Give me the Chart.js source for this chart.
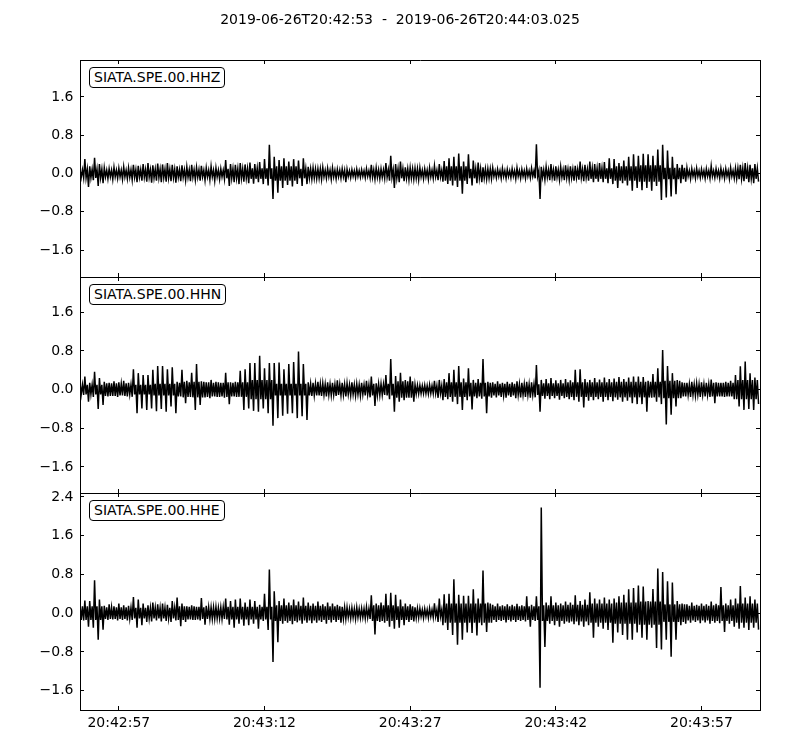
<!DOCTYPE html>
<html>
<head>
<meta charset="utf-8">
<script src="https://cdn.jsdelivr.net/npm/chart.js@4.4.1/dist/chart.umd.min.js"></script>
<style>
html,body{margin:0;padding:0;background:#fff;width:800px;height:750px;overflow:hidden;}
canvas{position:absolute;left:0;top:0;}
.lbl{position:absolute;left:89px;z-index:5;font-family:"DejaVu Sans",sans-serif;font-size:14px;line-height:17px;padding:1px 4px;border:1px solid #000;border-radius:4px;background:#fff;color:#000;white-space:nowrap;}
</style>
</head>
<body>
<canvas id="c1" width="800" height="750"></canvas>
<canvas id="c2" width="800" height="750"></canvas>
<canvas id="c3" width="800" height="750"></canvas>
<div class="lbl" id="l1" style="top:67px"></div>
<div class="lbl" id="l2" style="top:284px"></div>
<div class="lbl" id="l3" style="top:500px"></div>
<script>
// ---- data ----
const startTime = '2019-06-26T20:42:53';
const endTime = '2019-06-26T20:44:03.025';
const duration = 70.025;          // seconds shown on the time axis
const binSeconds = 0.5;           // envelope bins: max / min per bin
const bandSeconds = 2.5;          // resolution of the dense noise-core half width
const stations = ['SIATA.SPE.00.HHZ', 'SIATA.SPE.00.HHN', 'SIATA.SPE.00.HHE'];

const xTickValues = [4, 19, 34, 49, 64];
const xTickLabels = ['20:42:57', '20:43:12', '20:43:27', '20:43:42', '20:43:57'];
const yTicksHHZ = [-1.6, -0.8, 0, 0.8, 1.6];
const yTicksHHN = [-1.6, -0.8, 0, 0.8, 1.6];
const yTicksHHE = [-1.6, -0.8, 0, 0.8, 1.6, 2.4];
const yRangeHHZ = [-2.16, 2.37];
const yRangeHHN = [-2.14, 2.33];
const yRangeHHE = [-2.0, 2.48];

const hhzHi = [
 .08,.30,.15,.33,.20,.12,.10,.13,.11,.14,
 .12,.18,.16,.20,.22,.17,.21,.19,.22,.18,
 .15,.17,.14,.18,.13,.16,.12,.15,.12,.10,
 .28,.20,.18,.22,.19,.23,.20,.24,.30,.60,
 .35,.28,.32,.25,.30,.27,.32,.14,.12,.10,
 .13,.11,.12,.09,.10,.09,.08,.09,.08,.10,
 .18,.12,.10,.22,.37,.20,.25,.13,.12,.11,
 .12,.10,.12,.16,.20,.26,.32,.35,.42,.25,
 .40,.27,.23,.13,.10,.12,.09,.11,.09,.10,
 .12,.09,.10,.11,.61,.14,.14,.20,.15,.14,
 .17,.15,.16,.25,.18,.25,.20,.22,.24,.32,
 .30,.22,.27,.35,.40,.37,.41,.40,.37,.50,
 .60,.48,.35,.20,.18,.12,.10,.11,.09,.10,
 .16,.10,.11,.10,.12,.11,.18,.22,.18,.20];
const hhzLo = [
 -.09,-.28,-.14,-.26,-.20,-.11,-.12,-.10,-.12,-.11,
 -.13,-.18,-.15,-.17,-.19,-.15,-.18,-.17,-.16,-.19,
 -.16,-.14,-.16,-.13,-.15,-.14,-.13,-.15,-.12,-.11,
 -.26,-.18,-.22,-.17,-.20,-.21,-.18,-.22,-.25,-.53,
 -.40,-.30,-.24,-.27,-.22,-.26,-.22,-.12,-.11,-.12,
 -.10,-.12,-.11,-.10,-.18,-.09,-.09,-.08,-.09,-.09,
 -.12,-.11,-.10,-.15,-.30,-.18,-.16,-.13,-.12,-.13,
 -.11,-.12,-.10,-.14,-.17,-.22,-.25,-.28,-.42,-.22,
 -.25,-.20,-.18,-.12,-.11,-.09,-.10,-.10,-.09,-.11,
 -.10,-.10,-.09,-.10,-.53,-.13,-.14,-.15,-.13,-.14,
 -.13,-.15,-.13,-.16,-.15,-.18,-.17,-.18,-.20,-.22,
 -.30,-.20,-.25,-.36,-.30,-.35,-.30,-.36,-.26,-.55,
 -.50,-.48,-.43,-.20,-.17,-.11,-.10,-.09,-.10,-.10,
 -.09,-.10,-.10,-.11,-.10,-.12,-.16,-.18,-.20,-.17];
const hhzBand = [
 .09,.07,.08,.09,.08,.07,.10,.11,.15,.10,
 .07,.06,.08,.10,.07,.15,.10,.06,.06,.08,
 .09,.11,.15,.17,.12,.06,.06,.11];

const hhnHi = [
 .13,.27,.14,.37,.24,.16,.14,.17,.15,.18,
 .14,.42,.34,.30,.30,.41,.49,.49,.42,.46,
 .16,.41,.18,.35,.53,.17,.15,.20,.16,.14,
 .35,.15,.16,.39,.42,.55,.55,.70,.44,.55,
 .55,.56,.42,.53,.57,.79,.53,.15,.14,.16,
 .13,.15,.14,.19,.14,.13,.15,.12,.14,.18,
 .27,.13,.12,.30,.63,.28,.35,.20,.27,.10,
 .09,.09,.10,.18,.20,.22,.34,.41,.49,.23,
 .44,.20,.22,.63,.16,.15,.17,.14,.16,.15,
 .17,.14,.16,.15,.51,.20,.22,.24,.19,.20,
 .22,.19,.41,.42,.22,.20,.24,.21,.25,.22,
 .23,.26,.22,.25,.27,.27,.26,.18,.32,.44,
 .82,.49,.34,.20,.15,.14,.16,.13,.15,.14,
 .21,.15,.14,.16,.18,.30,.48,.58,.34,.25];
const hhnLo = [
 -.11,-.25,-.15,-.40,-.32,-.14,-.13,-.15,-.12,-.14,
 -.15,-.49,-.39,-.42,-.39,-.45,-.40,-.46,-.35,-.49,
 -.14,-.28,-.15,-.42,-.32,-.16,-.18,-.14,-.15,-.17,
 -.30,-.14,-.15,-.42,-.39,-.44,-.46,-.39,-.49,-.75,
 -.59,-.54,-.50,-.49,-.59,-.55,-.63,-.13,-.12,-.13,
 -.14,-.12,-.13,-.12,-.14,-.12,-.13,-.13,-.12,-.16,
 -.34,-.12,-.11,-.20,-.46,-.25,-.22,-.17,-.25,-.09,
 -.08,-.09,-.08,-.17,-.22,-.20,-.25,-.30,-.42,-.22,
 -.41,-.18,-.19,-.49,-.17,-.16,-.15,-.17,-.15,-.18,
 -.16,-.15,-.17,-.16,-.46,-.19,-.20,-.18,-.21,-.18,
 -.20,-.22,-.25,-.37,-.23,-.22,-.20,-.25,-.22,-.24,
 -.21,-.25,-.23,-.28,-.30,-.30,-.46,-.17,-.25,-.30,
 -.72,-.52,-.35,-.18,-.14,-.15,-.13,-.15,-.14,-.15,
 -.28,-.14,-.15,-.14,-.20,-.35,-.42,-.40,-.42,-.30];
const hhnBand = [
 .10,.13,.10,.12,.16,.18,.15,.20,.12,.12,
 .11,.10,.12,.17,.08,.15,.14,.12,.11,.13,
 .15,.15,.16,.16,.18,.11,.14,.20];

const hheHi = [
 .17,.26,.25,.68,.28,.15,.18,.14,.20,.16,
 .15,.33,.28,.20,.16,.22,.18,.20,.17,.25,
 .32,.20,.14,.16,.13,.31,.15,.12,.13,.12,
 .30,.25,.28,.30,.22,.28,.25,.17,.40,.90,
 .45,.25,.30,.22,.28,.24,.32,.22,.20,.24,
 .18,.22,.20,.17,.13,.12,.11,.12,.10,.13,
 .37,.20,.22,.40,.42,.38,.28,.20,.18,.12,
 .10,.09,.10,.20,.30,.39,.40,.70,.38,.36,
 .36,.49,.30,.88,.22,.17,.20,.16,.18,.17,
 .19,.16,.35,.17,.35,2.18,.22,.35,.22,.20,
 .24,.22,.37,.25,.28,.43,.30,.28,.32,.28,
 .30,.35,.38,.49,.52,.57,.55,.25,.50,.92,
 .85,.66,.63,.25,.20,.18,.22,.17,.20,.18,
 .24,.19,.54,.20,.28,.30,.56,.32,.35,.28];
const hheLo = [
 -.15,-.28,-.30,-.55,-.34,-.14,-.13,-.15,-.14,-.15,
 -.14,-.30,-.25,-.18,-.17,-.15,-.17,-.16,-.18,-.15,
 -.27,-.18,-.13,-.14,-.15,-.24,-.12,-.12,-.11,-.12,
 -.24,-.30,-.22,-.26,-.25,-.22,-.32,-.16,-.35,-1.01,
 -.60,-.22,-.20,-.23,-.19,-.22,-.20,-.21,-.20,-.18,
 -.22,-.19,-.18,-.20,-.12,-.11,-.12,-.10,-.11,-.12,
 -.44,-.18,-.20,-.28,-.32,-.30,-.25,-.18,-.17,-.10,
 -.10,-.10,-.09,-.18,-.25,-.35,-.45,-.65,-.55,-.40,
 -.41,-.46,-.25,-.39,-.20,-.18,-.16,-.19,-.17,-.18,
 -.16,-.17,-.28,-.16,-1.54,-.70,-.22,-.25,-.28,-.22,
 -.20,-.23,-.25,-.28,-.25,-.51,-.28,-.32,-.35,-.61,
 -.40,-.45,-.55,-.55,-.40,-.51,-.55,-.30,-.72,-.75,
 -.55,-.90,-.55,-.25,-.22,-.20,-.18,-.21,-.19,-.22,
 -.20,-.21,-.39,-.22,-.28,-.32,-.30,-.35,-.30,-.34];
const hheBand = [
 .14,.12,.11,.11,.14,.12,.13,.13,.16,.15,
 .14,.09,.16,.14,.07,.20,.20,.14,.14,.16,
 .17,.20,.22,.24,.18,.15,.16,.20];

// ---- rendering ----
Chart.defaults.font.family = '"DejaVu Sans", sans-serif';
Chart.defaults.font.size = 14;
Chart.defaults.color = '#000';

// each bin: peak, dense noise core down/up, trough
function trace(hi, lo, band) {
  const pts = [];
  const q = binSeconds / 4;
  for (let i = 0; i < hi.length; i++) {
    const t = i * binSeconds;
    const b = Math.min(band[Math.floor(t / bandSeconds)], hi[i], -lo[i]);
    pts.push({x: t, y: hi[i]});
    pts.push({x: t + q, y: -b});
    pts.push({x: t + 2 * q, y: b});
    pts.push({x: t + 3 * q, y: lo[i]});
  }
  return pts;
}
function fmtY(v) {
  return (v < 0 ? '\u2212' : '') + Math.abs(v).toFixed(1);
}
function tickSetter(values) {
  return function (scale) { scale.ticks = values.map(v => ({value: v})); };
}

const panels = [
  {id: 'c1', hi: hhzHi, lo: hhzLo, band: hhzBand, range: yRangeHHZ, yticks: yTicksHHZ, top: 60, bottom: 277, showX: false, title: true},
  {id: 'c2', hi: hhnHi, lo: hhnLo, band: hhnBand, range: yRangeHHN, yticks: yTicksHHN, top: 277, bottom: 493, showX: false, title: false},
  {id: 'c3', hi: hheHi, lo: hheLo, band: hheBand, range: yRangeHHE, yticks: yTicksHHE, top: 493, bottom: 710, showX: true, title: false}
];

const gridOpts = {drawOnChartArea: false, drawTicks: true, tickLength: -4, color: '#000', lineWidth: 1};
const borderOpts = {display: true, color: '#000', width: 1};

panels.forEach((p, k) => {
  document.getElementById('l' + (k + 1)).textContent = stations[k];
  const xHeight = p.showX ? 750 - p.bottom : 0;
  new Chart(document.getElementById(p.id), {
    type: 'line',
    data: {
      datasets: [{
        data: trace(p.hi, p.lo, p.band),
        borderColor: '#000',
        borderWidth: 1.5,
        pointRadius: 0,
        tension: 0,
        fill: false
      }]
    },
    options: {
      responsive: false,
      animation: false,
      devicePixelRatio: 1,
      events: [],
      layout: {padding: {left: 40, right: 40, top: p.title ? 0 : p.top, bottom: 750 - p.bottom - xHeight}},
      plugins: {
        legend: {display: false},
        tooltip: {enabled: false},
        title: {
          display: p.title,
          text: startTime + '  -  ' + endTime,
          color: '#000',
          font: {family: '"DejaVu Sans", sans-serif', size: 14, weight: 'normal', lineHeight: 1.2},
          padding: {top: 11.6, bottom: p.top - 11.6 - 16.8}
        }
      },
      scales: {
        x: {
          type: 'linear', position: 'bottom', min: 0, max: duration,
          afterBuildTicks: tickSetter(xTickValues),
          afterFit: s => { s.height = xHeight; },
          ticks: {
            display: p.showX, autoSkip: false, maxRotation: 0, minRotation: 0, padding: 9, color: '#000',
            callback: v => { const i = xTickValues.indexOf(v); return i >= 0 ? xTickLabels[i] : ''; }
          },
          grid: gridOpts, border: borderOpts
        },
        x2: {
          type: 'linear', position: 'top', min: 0, max: duration,
          afterBuildTicks: tickSetter(xTickValues),
          afterFit: s => { s.height = 0; },
          ticks: {display: false},
          grid: gridOpts, border: borderOpts
        },
        y: {
          type: 'linear', position: 'left', min: p.range[0], max: p.range[1],
          afterBuildTicks: tickSetter(p.yticks),
          afterFit: s => { s.width = 40; },
          ticks: {padding: 10.5, color: '#000', callback: v => fmtY(v)},
          grid: gridOpts, border: borderOpts
        },
        y2: {
          type: 'linear', position: 'right', min: p.range[0], max: p.range[1],
          afterBuildTicks: tickSetter(p.yticks),
          afterFit: s => { s.width = 0; },
          ticks: {display: false},
          grid: gridOpts, border: borderOpts
        }
      }
    }
  });
});
</script>
</body>
</html>
